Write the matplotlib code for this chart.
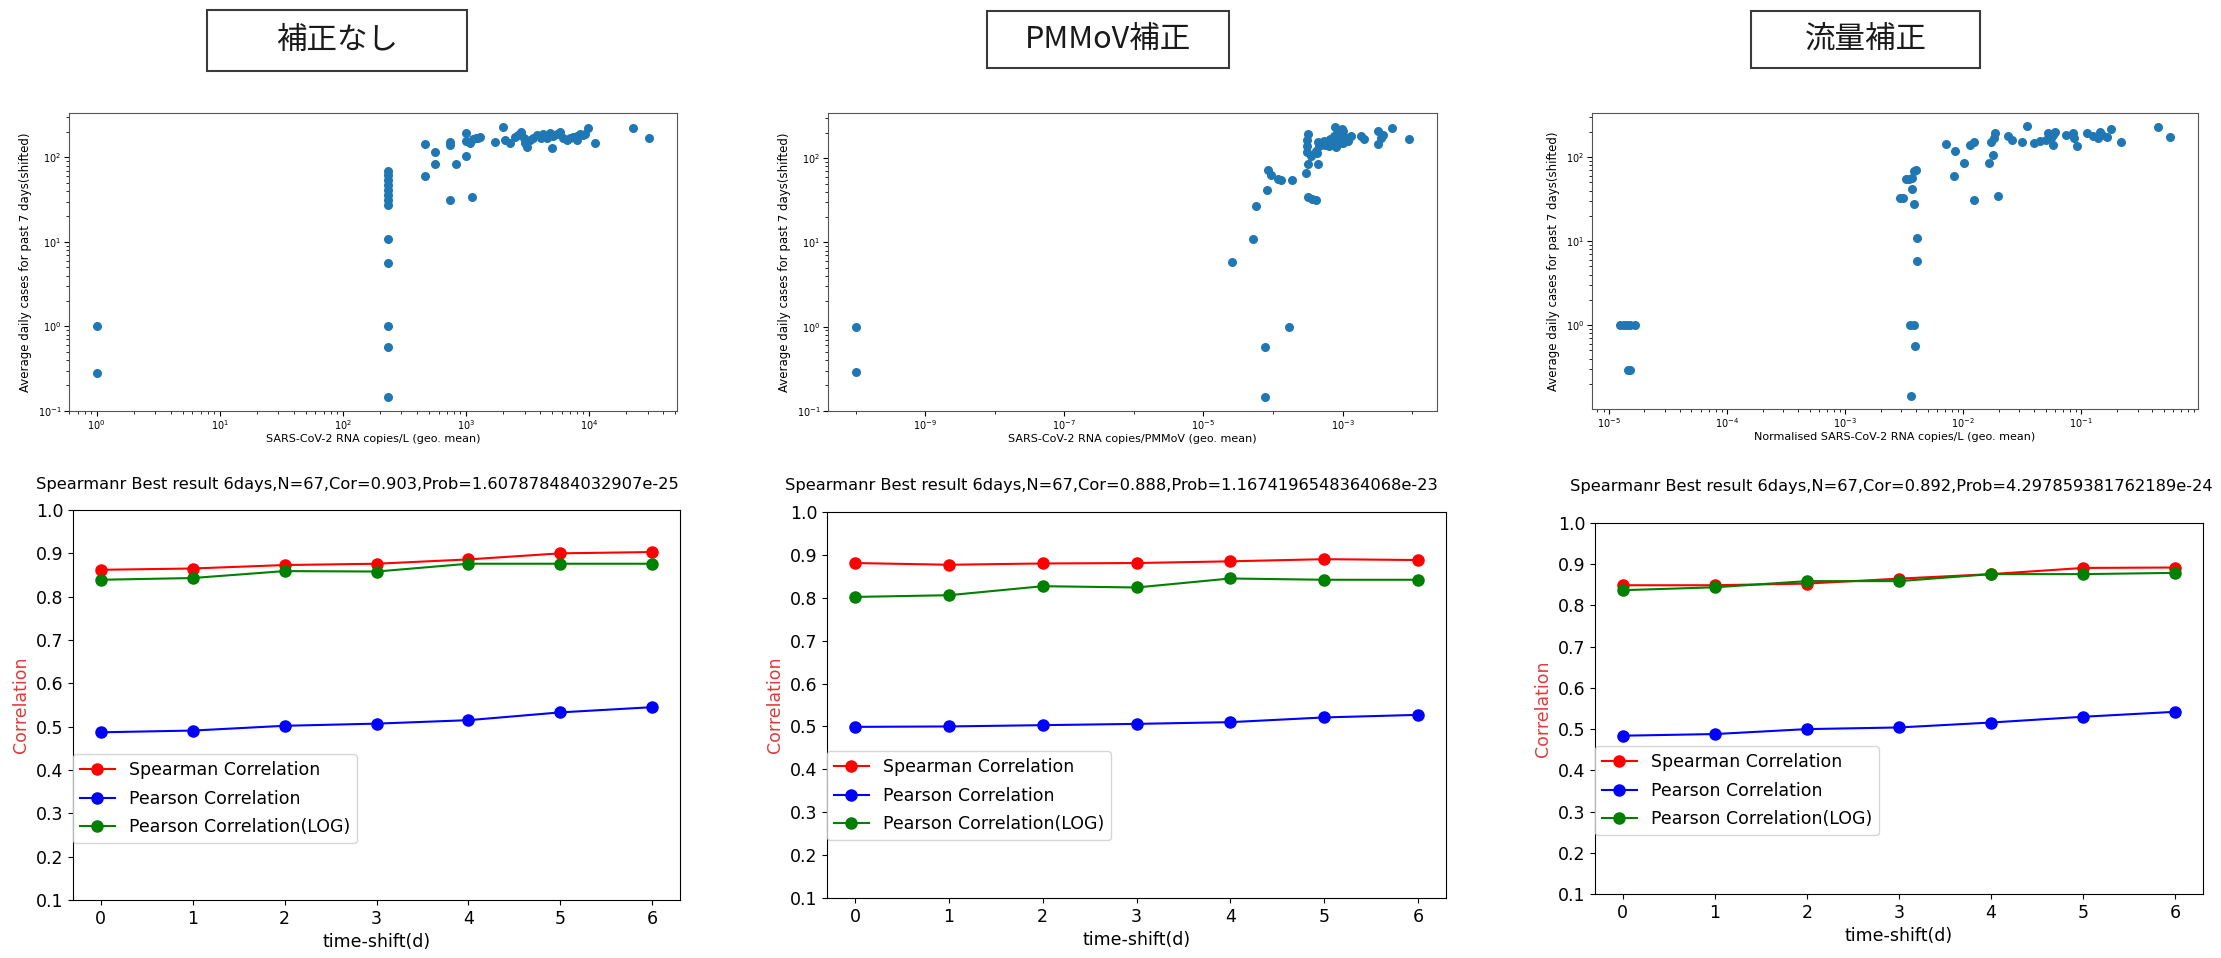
import matplotlib
matplotlib.use("Agg")
import matplotlib.pyplot as plt
from matplotlib.patches import Rectangle
from matplotlib.ticker import FixedLocator, NullFormatter

plt.rcParams['font.family'] = ['DejaVu Sans']

# ---------------- data ----------------
panel_titles = ["補正なし", "PMMoV補正", "流量補正"]

scatter_ylabel = "Average daily cases for past 7 days(shifted)"
scatter_xlabels = ["SARS-CoV-2 RNA copies/L (geo. mean)",
                   "SARS-CoV-2 RNA copies/PMMoV (geo. mean)",
                   "Normalised SARS-CoV-2 RNA copies/L (geo. mean)"]

# panel 1 scatter (no correction)
p1_x = [1, 1,
        231, 231, 231, 231, 231, 231, 231, 231, 231, 231, 231, 231, 231,
        464, 464, 560, 560, 741, 741, 741, 828, 1000, 1000, 1000, 1112, 1150, 1300,
        1720, 2000, 2280,
        2640, 2800, 2950, 3050, 3150,
        3520, 3760, 4000, 4260, 4530, 4820, 5130, 5460, 5810, 5040,
        6590, 7010, 7460, 7940, 8450, 8990,
        9750, 11200, 22900, 31000,
        1080, 1200, 1250, 2100, 2500, 3300, 4100, 6200, 8000, 9300]
p1_y = [1.0, 0.28,
        70, 62, 54, 47, 41, 36, 31, 27, 10.9, 5.7, 1.0, 0.57, 0.144,
        143, 60, 117, 83, 154, 140, 31, 83, 197, 156, 105, 34, 165, 176,
        151, 232, 147,
        185, 202, 168, 147, 134,
        171, 185, 181, 188, 171, 193, 181, 188, 202, 130,
        161, 171, 176, 181, 188, 185,
        226, 150, 226, 171,
        150, 170, 172, 160, 175, 160, 168, 170, 160, 190]

# panel 2 scatter (PMMoV correction)
p2_x = [1e-10, 1e-10,
        2.6e-5, 5.2e-5, 5.7e-5, 8.1e-5, 8.4e-5, 9.4e-5, 1.17e-4,
        1.3e-4, 1.86e-4,
        1.72e-4, 7.7e-5, 7.6e-5,
        3.0e-4, 3.16e-4, 3.1e-4, 3.16e-4, 3.05e-4, 3.1e-4,
        3.2e-4, 3.6e-4, 4.1e-4,
        3.5e-4, 4.4e-4, 4.2e-4, 4.5e-4, 4.35e-4,
        4.6e-4, 5.0e-4, 5.4e-4, 5.6e-4, 6.3e-4,
        6.0e-4, 6.5e-4, 7.0e-4, 7.5e-4, 7.8e-4, 8.2e-4, 8.6e-4, 9.0e-4, 9.5e-4,
        1.0e-3, 1.05e-3, 1.1e-3, 1.18e-3, 8.0e-4, 9.2e-4,
        1.2e-3, 1.3e-3, 1.0e-3, 9.8e-4, 8.8e-4,
        1.85e-3, 2.06e-3, 3.2e-3, 3.2e-3, 3.55e-3, 3.8e-3,
        5.2e-3, 9.1e-3]
p2_y = [1.0, 0.285,
        5.8, 10.9, 27, 42, 72, 63, 56,
        55, 55,
        1.0, 0.57, 0.144,
        67, 85, 140, 193, 165, 120,
        35, 33, 32,
        105, 85, 122, 154, 115,
        140, 150, 160, 145, 140,
        150, 170, 160, 185, 238, 200, 175, 165, 190,
        210, 180, 170, 175, 135, 150,
        160, 185, 150, 225, 215,
        184, 171, 209, 146, 176, 188,
        226, 171]
p2_major_ticks = [1e-9, 1e-7, 1e-5, 1e-3]
p2_minor_ticks = [1e-10, 1e-8, 1e-6, 1e-4, 1e-2]

# panel 3 scatter (flow correction)
p3_x = [1.23e-5, 1.33e-5, 1.42e-5, 1.52e-5, 1.65e-5,
        1.45e-5, 1.52e-5,
        2.9e-3, 3.1e-3, 3.3e-3, 3.5e-3, 3.7e-3, 3.85e-3, 3.95e-3, 3.7e-3, 3.85e-3,
        4.1e-3, 4.1e-3, 3.55e-3, 3.8e-3, 3.9e-3, 3.65e-3,
        7.2e-3, 8.3e-3, 8.5e-3, 0.0102, 0.0115, 0.0123, 0.0123, 0.0164, 0.0178,
        0.0172, 0.0182, 0.0187, 0.0199, 0.024, 0.0316, 0.035, 0.04,
        0.052, 0.056, 0.058, 0.054, 0.058,
        0.085, 0.087, 0.093, 0.111, 0.138, 0.165, 0.18, 0.219, 0.45, 0.57,
        0.05, 0.06, 0.075, 0.125, 0.15, 0.145, 0.026, 0.045]
p3_y = [1.0, 1.0, 1.0, 1.0, 1.0,
        0.29, 0.29,
        33, 33, 55, 55, 57, 68, 71, 42, 27.5,
        10.8, 5.8, 1.0, 1.0, 0.57, 0.145,
        143, 60, 117, 85, 140, 150, 31, 85, 106,
        150, 170, 195, 34, 180, 153, 232, 147,
        194, 169, 185, 175, 140,
        194, 169, 134, 194, 169, 176, 216, 153, 228, 173,
        160, 200, 185, 180, 185, 200, 160, 155]

# correlation vs time shift
shifts = [0, 1, 2, 3, 4, 5, 6]
spearman = [[0.862, 0.865, 0.873, 0.876, 0.886, 0.900, 0.903],
            [0.881, 0.877, 0.880, 0.881, 0.885, 0.890, 0.888],
            [0.849, 0.849, 0.853, 0.865, 0.876, 0.891, 0.892]]
pearson = [[0.487, 0.491, 0.502, 0.507, 0.515, 0.533, 0.545],
           [0.499, 0.500, 0.503, 0.506, 0.510, 0.521, 0.527],
           [0.484, 0.488, 0.500, 0.504, 0.516, 0.530, 0.542]]
pearson_log = [[0.839, 0.843, 0.859, 0.858, 0.876, 0.876, 0.876],
               [0.802, 0.806, 0.827, 0.824, 0.845, 0.842, 0.842],
               [0.837, 0.844, 0.859, 0.859, 0.876, 0.876, 0.879]]
line_titles = ["Spearmanr Best result 6days,N=67,Cor=0.903,Prob=1.607878484032907e-25",
               "Spearmanr Best result 6days,N=67,Cor=0.888,Prob=1.1674196548364068e-23",
               "Spearmanr Best result 6days,N=67,Cor=0.892,Prob=4.297859381762189e-24"]
series_labels = ["Spearman Correlation", "Pearson Correlation", "Pearson Correlation(LOG)"]
yticks = [0.1, 0.2, 0.3, 0.4, 0.5, 0.6, 0.7, 0.8, 0.9, 1.0]

# ---------------- layout ----------------
W, H = 2221, 958
fig = plt.figure(figsize=(W / 100, H / 100), dpi=100)


def fr(x0, y0, x1, y1):
    """pixel box (top-left origin) -> figure fraction rect"""
    return [x0 / W, 1 - y1 / H, (x1 - x0) / W, (y1 - y0) / H]


scatter_boxes = [(69, 113, 677, 411), (828, 113, 1437, 411), (1592, 113, 2198, 409)]
line_boxes = [(73, 510, 680, 900), (827, 512, 1446, 898), (1595, 523, 2203, 894)]
title_boxes = [(207, 10, 467, 71), (987, 11, 1229, 68), (1751, 11, 1980, 68)]
title_pads = [15, 16, 23]
title_x = [0.468, 0.46, 0.487]
legend_y = [0.146, 0.15, 0.159]

scat_x = [p1_x, p2_x, p3_x]
scat_y = [p1_y, p2_y, p3_y]

for i in range(3):
    # header box
    bx0, by0, bx1, by1 = title_boxes[i]
    r = fr(bx0, by0, bx1, by1)
    fig.patches.append(Rectangle((r[0], r[1]), r[2], r[3], transform=fig.transFigure,
                                 fill=False, edgecolor='#3a3a3a', linewidth=1.5))
    fig.text(r[0] + r[2] / 2, r[1] + r[3] / 2, panel_titles[i], ha='center', va='center',
             fontsize=22, color='#1a1a1a', family=['Noto Sans CJK JP', 'DejaVu Sans'])

    # scatter
    ax = fig.add_axes(fr(*scatter_boxes[i]))
    ax.scatter(scat_x[i], scat_y[i], s=30, color='#1f77b4')
    ax.set_xscale('log')
    ax.set_yscale('log')
    if i == 1:
        ax.xaxis.set_major_locator(FixedLocator(p2_major_ticks))
        ax.xaxis.set_minor_locator(FixedLocator(p2_minor_ticks))
        ax.xaxis.set_minor_formatter(NullFormatter())
    ax.set_xlabel(scatter_xlabels[i], fontsize=8, labelpad=1)
    ax.set_ylabel(scatter_ylabel, fontsize=8.5)
    ax.tick_params(labelsize=7, pad=2)
    for s in ax.spines.values():
        s.set_edgecolor('#555555')

    # correlation lines
    ax2 = fig.add_axes(fr(*line_boxes[i]))
    ax2.plot(shifts, spearman[i], 'o-', color='red', lw=1.5, ms=8, label=series_labels[0])
    ax2.plot(shifts, pearson[i], 'o-', color='blue', lw=1.5, ms=8, label=series_labels[1])
    ax2.plot(shifts, pearson_log[i], 'o-', color='green', lw=1.5, ms=8, label=series_labels[2])
    ax2.set_ylim(0.1, 1.0)
    ax2.set_yticks(yticks)
    ax2.set_xticks(shifts)
    ax2.tick_params(labelsize=12.5)
    ax2.set_xlabel("time-shift(d)", fontsize=12.5)
    ax2.set_ylabel("Correlation", fontsize=12.5, color='#e03a3a')
    ax2.set_title(line_titles[i], fontsize=11.7, pad=title_pads[i], x=title_x[i])
    ax2.legend(loc='lower left', bbox_to_anchor=(0, legend_y[i]), borderaxespad=0,
               fontsize=12.5, labelspacing=0.6)

fig.savefig("out.png", dpi=100)
